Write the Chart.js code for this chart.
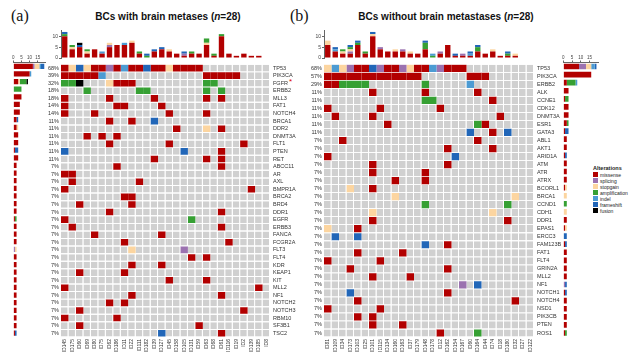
<!DOCTYPE html>
<html>
<head>
<meta charset="utf-8">
<script src="https://cdn.jsdelivr.net/npm/chart.js@4.4.1/dist/chart.umd.min.js"></script>
<style>
  body { margin: 0; width: 640px; height: 361px; background: #fff; position: relative; overflow: hidden;
         font-family: 'Liberation Sans', Arial, sans-serif; }
  canvas { position: absolute; }
  .ttl { position: absolute; top: 11px; font-weight: bold; font-size: 10px; color: #111; white-space: nowrap; transform: translateX(-50%); }
  .pl { position: absolute; top: 7px; font-family: 'Liberation Serif', serif; font-size: 16px; color: #111; }
  .star { position: absolute; left: 289px; top: 77px; color: #d00; font-size: 8px; }
  #legend { position: absolute; left: 593px; top: 165px; font-size: 5px; color: #222; }
  #legend b { display: block; font-size: 5.5px; margin-bottom: 1px; }
  #legend div { height: 6px; line-height: 6px; white-space: nowrap; }
  #legend span { display: inline-block; width: 5px; height: 5px; margin-right: 2px; vertical-align: top; }
</style>
</head>
<body>
<div class="pl" style="left:11px">(a)</div>
<div class="pl" style="left:290px">(b)</div>
<div class="ttl" style="left:168px">BCs with brain metases (<i>n</i>=28)</div>
<div class="ttl" style="left:446px">BCs without brain metastases (<i>n</i>=28)</div>
<div class="star">*</div>
<div id="legend"></div>

<canvas id="topL" width="232" height="36" style="left:40px;top:26px"></canvas>
<canvas id="gridL" width="282" height="303" style="left:38px;top:58px"></canvas>
<canvas id="sideL" width="40" height="287" style="left:8px;top:50px"></canvas>
<canvas id="topR" width="232" height="36" style="left:303px;top:26px"></canvas>
<canvas id="gridR" width="290" height="303" style="left:300px;top:58px"></canvas>
<canvas id="sideR" width="45" height="287" style="left:555px;top:50px"></canvas>

<script>
// alteration types, legend order
const types = ['missense', 'splicing', 'stopgain', 'amplification', 'indel', 'frameshift', 'fusion'];
const typeCodes = ['M', 'S', 'G', 'A', 'I', 'F', 'X'];
const typeColors = ['#B20000', '#9B72B0', '#FCD5A0', '#36A033', '#4C9BD3', '#2166B8', '#000000'];
const emptyColor = '#D0D0D0';

// (a) with brain metastases
const leftSamples = ['ID145', 'ID175', 'ID60', 'ID69', 'ID80', 'ID75', 'ID62', 'ID186', 'ID11', 'ID22', 'ID111', 'ID182', 'ID39', 'ID127',
    'ID45', 'ID158', 'ID105', 'ID131', 'ID59', 'ID63', 'ID68', 'ID61', 'ID116', 'ID19', 'ID2', 'ID139', 'ID185', 'ID8'];
const leftGenes = ['TP53', 'PIK3CA', 'FGFR', 'ERBB2', 'MLL3', 'FAT1', 'NOTCH4', 'BRCA1', 'DDR2', 'DNMT3A', 'FLT1', 'PTEN', 'RET',
    'ABCC11', 'AR', 'AXL', 'BMPR1A', 'BRCA2', 'BRD4', 'DDR1', 'EGFR', 'ERBB3', 'FANCA', 'FCGR2A', 'FLT3', 'FLT4', 'KDR', 'KEAP1',
    'KIT', 'MLL2', 'NF1', 'NOTCH2', 'NOTCH3', 'RBM10', 'SF3B1', 'TSC2'];
// sample column + alteration code, one string per gene
const leftHits = [
    '0M 1G 2F 3G 4M 5M 6S 7M 8I 9M 10M 11F 12M 13M 14G 15M 16M 17M 18M',
    '0M 1M 2M 3M 4M 5I 19M 20M 21M 22M 23M',
    '0A 1A 2X 6G 7M 8M 9M 19A 20A',
    '3A 10A 11A 19A 21A',
    '0M 6M 12M 19M 21M',
    '0M 7M 8M 13M',
    '0M 4M 14M 19M',
    '6M 9M 12F',
    '15M 19G 21M',
    '3M 5M 7M',
    '6M 14M 24M',
    '0F 16F 21M',
    '12M 19M 21M',
    '7M 21M',
    '0M 1M',
    '1M 10M',
    '0M 25M',
    '8M 9M',
    '2M 9M',
    '6M 21M',
    '0M 17A',
    '1M 21M',
    '4M 13M',
    '8M 22M',
    '9G 16S',
    '17M 19M',
    '9M 13M',
    '2M 8M',
    '14M 19M',
    '0M 26M',
    '9M 21M',
    '6M 8M',
    '2M 24M',
    '0M 7M',
    '2M 18M',
    '13F 21M'
];

// (b) without brain metastases
const rightSamples = ['ID81', 'ID109', 'ID34', 'ID173', 'ID103', 'ID25', 'ID101', 'ID115', 'ID134', 'ID160', 'ID163', 'ID37', 'ID179',
    'ID148', 'ID178', 'ID12', 'ID162', 'ID154', 'ID167', 'ID60', 'ID164', 'ID44', 'ID74', 'ID18', 'ID180', 'ID32', 'ID27', 'ID122'];
const rightGenes = ['TP53', 'PIK3CA', 'ERBB2', 'ALK', 'CCNE1', 'CDK12', 'DNMT3A', 'ESR1', 'GATA3', 'ABL1', 'AKT1', 'ARID1A', 'ATM',
    'ATR', 'ATRX', 'BCORL1', 'BRCA1', 'CCND1', 'CDH1', 'DDR1', 'EPAS1', 'ERCC3', 'FAM123B', 'FAT1', 'FLT4', 'GRIN2A', 'MLL2', 'NF1',
    'NOTCH1', 'NOTCH4', 'NSD1', 'PIK3CB', 'PTEN', 'ROS1'];
const rightHits = [
    '0G 1I 2G 3S 4M 5M 6F 7S 8M 9M 10S 11G 12M 13M 14I 15S 16M 17M 18M',
    '0M 1M 2M 3M 4M 5M 6M 7M 8M 9M 10M 11M 12M 19M 20M 21M',
    '0M 1M 2A 3A 4A 5A 13A 19I',
    '6M 13M 20M',
    '13A 14A 22M',
    '0M 7M 15M',
    '1M 6M 23M',
    '8M 20A 21M',
    '19F 22M 24F',
    '2M 20M',
    '16M 22M',
    '0M 17F',
    '6M 16M',
    '6M 13M',
    '9M 13M',
    '3G 6M',
    '9G 25G',
    '13A 24A',
    '6G 22G',
    '6M 24M',
    '0G 4M',
    '1F 4F',
    '13F 16M',
    '4M 10M',
    '0M 7M',
    '3M 16M',
    '6M 11M',
    '18S 20F',
    '3F 16M',
    '4M 25M',
    '0M 7M',
    '4M 6M',
    '6M 10M',
    '15M 20A'
];

const topTicks = [0, 5, 10];
const sideTicks = [0, 5, 10, 15];

Chart.defaults.font.family = "'Liberation Sans', Arial, sans-serif";
Chart.defaults.color = '#333';

function toRows(hits, n) {
    return hits.map(h => {
        const row = new Array(n).fill(null);
        h.split(' ').forEach(t => { row[parseInt(t)] = t.slice(-1); });
        return row;
    });
}

const baseOpts = {
    responsive: false,
    animation: false,
    plugins: { legend: { display: false }, tooltip: { enabled: false } }
};

function topChart(id, samples, rows, padRight) {
    new Chart(document.getElementById(id), {
        type: 'bar',
        data: {
            labels: samples,
            datasets: types.map((t, k) => ({
                label: t,
                data: samples.map((s, j) => rows.filter(r => r[j] === typeCodes[k]).length),
                backgroundColor: typeColors[k],
                barPercentage: 0.72,
                categoryPercentage: 1
            }))
        },
        options: {
            ...baseOpts,
            layout: { padding: { top: 4, bottom: 0.5, right: padRight, left: 0 } },
            scales: {
                x: { stacked: true, display: false },
                y: {
                    stacked: true, min: 0, max: 12.9,
                    afterBuildTicks: s => { s.ticks = topTicks.map(v => ({ value: v })); },
                    grid: { drawOnChartArea: false, tickLength: 2, color: '#666' },
                    border: { color: '#666' },
                    ticks: { font: { size: 5 }, padding: 1, color: '#444' },
                    afterFit: s => { s.width = 21; }
                }
            }
        }
    });
}

function gridChart(id, samples, genes, rows, leftW, rightW, catPct) {
    const pct = rows.map(r => Math.round(r.filter(Boolean).length / samples.length * 100) + '%');
    new Chart(document.getElementById(id), {
        type: 'bar',
        data: {
            labels: genes,
            datasets: samples.map((s, j) => ({
                label: s,
                data: genes.map(() => 1),
                backgroundColor: c => {
                    const v = rows[c.dataIndex][j];
                    return v ? typeColors[typeCodes.indexOf(v)] : emptyColor;
                },
                borderColor: '#fff',
                borderWidth: c => rows[c.dataIndex][j] ? 0 : { right: 1 },
                borderSkipped: false,
                inflateAmount: 0,
                categoryPercentage: catPct,
                barPercentage: 1
            }))
        },
        options: {
            ...baseOpts,
            indexAxis: 'y',
            layout: { padding: { top: 4.5, bottom: 0, left: 0, right: 0 } },
            scales: {
                x: { type: 'linear', stacked: true, min: 0, max: samples.length, display: false },
                xs: {
                    type: 'category', labels: samples, position: 'bottom', offset: true,
                    grid: { display: false, drawTicks: false }, border: { display: false },
                    ticks: { autoSkip: false, minRotation: 90, maxRotation: 90, padding: 2, font: { size: 5 }, color: '#333' },
                    afterFit: s => { s.height = 24; }
                },
                y: {
                    stacked: true, position: 'left',
                    grid: { display: false, drawTicks: false }, border: { display: false },
                    ticks: { autoSkip: false, callback: (v, i) => pct[i], padding: 2, font: { size: 5.5 }, color: '#333' },
                    afterFit: s => { s.width = leftW; }
                },
                yr: {
                    type: 'category', labels: genes, position: 'right', offset: true,
                    grid: { display: false, drawTicks: false }, border: { display: false },
                    ticks: { autoSkip: false, padding: 3, font: { size: 5.5 }, color: '#333' },
                    afterFit: s => { s.width = rightW; }
                }
            }
        }
    });
}

function sideChart(id, genes, rows, padLeft, padRight) {
    new Chart(document.getElementById(id), {
        type: 'bar',
        data: {
            labels: genes,
            datasets: types.map((t, k) => ({
                label: t,
                data: rows.map(r => r.filter(c => c === typeCodes[k]).length),
                backgroundColor: typeColors[k],
                barPercentage: 0.7,
                categoryPercentage: 1
            }))
        },
        options: {
            ...baseOpts,
            indexAxis: 'y',
            layout: { padding: { top: 0, bottom: 0, left: padLeft, right: padRight } },
            scales: {
                x: {
                    stacked: true, position: 'top', min: 0, max: 20,
                    afterBuildTicks: s => { s.ticks = sideTicks.map(v => ({ value: v })); },
                    grid: { drawOnChartArea: false, tickLength: 2, color: '#666' },
                    border: { color: '#666' },
                    ticks: { font: { size: 4.5 }, padding: 0, color: '#444', maxRotation: 0 },
                    afterFit: s => { s.height = 12.5; }
                },
                y: { stacked: true, display: false }
            }
        }
    });
}

const leftRows = toRows(leftHits, leftSamples.length);
const rightRows = toRows(rightHits, rightSamples.length);

topChart('topL', leftSamples, leftRows, 2);
gridChart('gridL', leftSamples, leftGenes, leftRows, 23, 50, 0.87);
sideChart('sideL', leftGenes, leftRows, 5.3, 2.1);

topChart('topR', rightSamples, rightRows, 1);
gridChart('gridR', rightSamples, rightGenes, rightRows, 24, 56, 0.9);
sideChart('sideR', rightGenes, rightRows, 8.3, 1.8);

// legend
const lg = document.getElementById('legend');
lg.innerHTML = '<b>Alterations</b>' + types.map((t, k) =>
    '<div><span style="background:' + typeColors[k] + '"></span>' + t + '</div>').join('');
</script>
</body>
</html>
